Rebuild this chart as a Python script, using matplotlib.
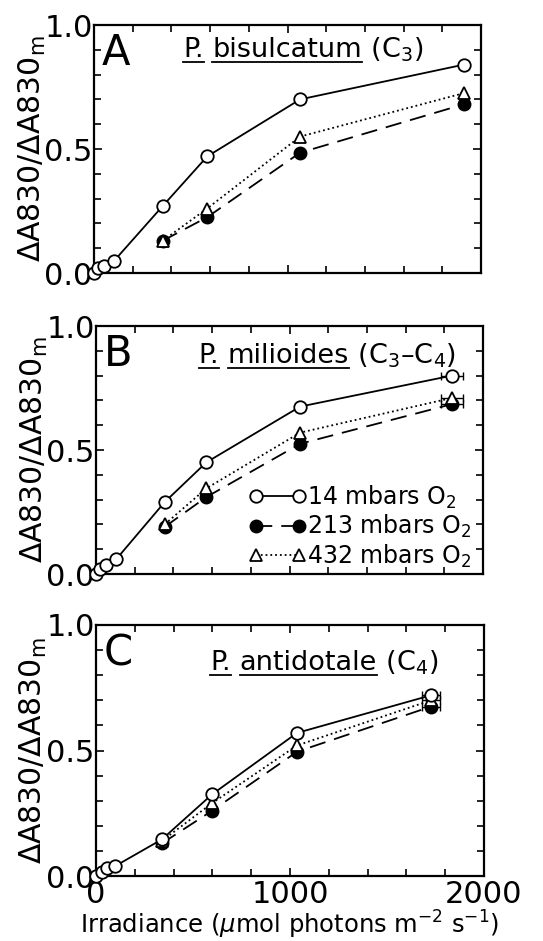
import numpy as np
import matplotlib.pyplot as plt
from matplotlib.lines import Line2D
from matplotlib.ticker import MultipleLocator

# irradiance (umol photons m-2 s-1) and dA830/dA830m for each species
x14_A = [0, 20, 50, 105, 355, 585, 1065, 1910]
y14_A = [0.00, 0.02, 0.03, 0.05, 0.27, 0.47, 0.70, 0.84]
xhi_A = [355, 585, 1065, 1910]
y213_A = [0.13, 0.225, 0.485, 0.68]
y432_A = [0.13, 0.26, 0.55, 0.725]

x14_B = [0, 20, 50, 105, 355, 570, 1055, 1840]
y14_B = [0.00, 0.02, 0.035, 0.06, 0.29, 0.45, 0.675, 0.80]
xhi_B = [355, 570, 1055, 1840]
y213_B = [0.19, 0.31, 0.525, 0.685]
y432_B = [0.20, 0.345, 0.57, 0.71]
xerr_B = 55

x14_C = [0, 30, 55, 100, 340, 598, 1036, 1727]
y14_C = [0.00, 0.016, 0.03, 0.04, 0.146, 0.325, 0.57, 0.72]
xhi_C = [340, 598, 1036, 1727]
y213_C = [0.13, 0.26, 0.495, 0.675]
y432_C = [0.14, 0.29, 0.52, 0.70]
xerr_C = 45

letters = ["A", "B", "C"]
titles = [
    [("P.", True), (" ", False), ("bisulcatum", True), (" (C$_3$)", False)],
    [("P.", True), (" ", False), ("milioides", True), (" (C$_3$\u2013C$_4$)", False)],
    [("P.", True), (" ", False), ("antidotale", True), (" (C$_4$)", False)],
]
labels = ["14 mbars O$_2$", "213 mbars O$_2$", "432 mbars O$_2$"]

panels = [
    (x14_A, y14_A, xhi_A, y213_A, y432_A, None),
    (x14_B, y14_B, xhi_B, y213_B, y432_B, xerr_B),
    (x14_C, y14_C, xhi_C, y213_C, y432_C, xerr_C),
]

W, H = 543, 941
plt.rcParams['mathtext.fontset'] = 'dejavusans'
fig = plt.figure(figsize=(W / 100, H / 100), dpi=100)

# axes boxes in pixels: left, right, top, bottom
boxes = [(94, 481, 25, 273), (96, 483, 326, 574), (96, 484, 625, 876)]
title_pos = [(0.23, 0.87), (0.265, 0.85), (0.295, 0.82)]

axes = []
for i, (l, r, t, b) in enumerate(boxes):
    ax = fig.add_axes([l / W, 1 - b / H, (r - l) / W, (b - t) / H])
    axes.append(ax)
    x14, y14, xhi, y213, y432, xerr = panels[i]
    lw = 1.3
    ax.plot(x14, y14, color='k', lw=lw, marker='o', ms=9, mfc='white',
            mec='k', mew=1.3, label=labels[0], zorder=4, clip_on=False)
    ax.plot(xhi, y213, color='k', lw=lw, dashes=(9, 5), marker='o', ms=9,
            mfc='k', mec='k', label=labels[1], zorder=3)
    ax.plot(xhi, y432, color='k', lw=lw, linestyle=':', marker='^', ms=8,
            mfc='white', mec='k', mew=1.3, label=labels[2], zorder=3)
    if xerr is not None:
        for xs, ys in [(x14, y14), (xhi, y213), (xhi, y432)]:
            ax.errorbar(xs[-1:], ys[-1:], xerr=xerr, fmt='none', ecolor='k',
                        elinewidth=1, capsize=3, zorder=2)

    ax.set_xlim(0, 2000)
    ax.set_ylim(0, 1.0)
    ax.xaxis.set_major_locator(MultipleLocator(1000))
    ax.xaxis.set_minor_locator(MultipleLocator(200))
    ax.yaxis.set_major_locator(MultipleLocator(0.5))
    ax.yaxis.set_minor_locator(MultipleLocator(0.1))
    ax.tick_params(which='both', direction='in', top=True, right=True,
                   width=1.2, labelsize=22, pad=1)
    ax.tick_params(which='major', length=6)
    ax.tick_params(which='minor', length=5)
    ax.yaxis.set_major_formatter(plt.FormatStrFormatter('%.1f'))
    for s in ax.spines.values():
        s.set_linewidth(1.6)
    ax.set_ylabel("\u0394A830/\u0394A830$_\\mathrm{m}$", fontsize=21.5)
    ax.yaxis.set_label_coords(-0.12, 0.5)
    if i < 2:
        ax.tick_params(labelbottom=False)
    ax.text(0.02, 0.97, letters[i], transform=ax.transAxes, fontsize=30,
            va='top', ha='left')

axes[2].set_xlabel("Irradiance ($\\mu$mol photons m$^{-2}$ s$^{-1}$)", fontsize=17.5,
                   labelpad=0)
axes[2].tick_params(axis='x', pad=3)

axes[1].legend(loc='lower right', frameon=False, fontsize=17, numpoints=2,
               handlelength=2.4, handletextpad=0.05, labelspacing=0.1,
               borderaxespad=0.1, bbox_to_anchor=(1.0, -0.03))

# titles with underlined genus/species
renderer = fig.canvas.get_renderer()
for i, ax in enumerate(axes):
    x0, y0 = title_pos[i]
    px, py = ax.transAxes.transform((x0, y0))
    for s, ul in titles[i]:
        t = fig.text(px / W, py / H, s, fontsize=19.5, va='baseline', ha='left')
        bb = t.get_window_extent(renderer=renderer)
        if ul:
            fig.add_artist(Line2D([bb.x0 / W, bb.x1 / W], [(py - 5) / H] * 2,
                                  color='k', lw=1.3, transform=fig.transFigure))
        px = bb.x1

fig.savefig("out.png", dpi=100)
